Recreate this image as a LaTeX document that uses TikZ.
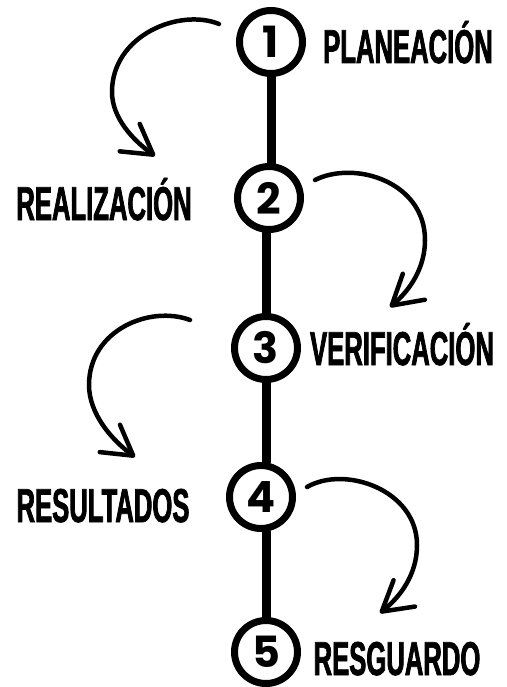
\documentclass[tikz,border=0pt]{standalone}
\usepackage{fontspec}
\usetikzlibrary{arrows.meta}
\newfontfamily\labfont{Liberation Sans}[FakeStretch=0.54, BoldFeatures={FakeBold=1.5}]
\newfontfamily\numfont{Poppins}
\begin{document}
\begin{tikzpicture}[x=1pt,y=-1pt,
  stepcircle/.style={circle, draw=black, line width=7pt, minimum size=63pt, inner sep=0pt,
    font=\numfont\bfseries\fontsize{43}{43}\selectfont},
  steplabel/.style={anchor=base, inner sep=0pt, font=\labfont\bfseries\fontsize{47.5}{50}\selectfont},
  vline/.style={line width=9pt, line cap=round},
  curvearrow/.style={line width=4.5pt, line cap=round,
    -{Straight Barb[length=29pt, width=34pt, line width=4.5pt, round]}}]
\useasboundingbox (0,0) rectangle (506,687);
\fill[white] (0,0) rectangle (506,687);
% steps
\node[stepcircle] (c1) at (271,42) {1};
\node[stepcircle] (c2) at (269,198) {2};
\node[stepcircle] (c3) at (266,348) {3};
\node[stepcircle] (c4) at (261,497) {4};
\node[stepcircle] (c5) at (266,652) {5};
% connectors (vertical)
\draw[vline] (c1.south) -- (c1.south |- c2.north);
\draw[vline] (c3.north |- c2.south) -- (c3.north);
\draw[vline] (c3.south) -- (c3.south |- c4.north);
\draw[vline] (c5.north |- c4.south) -- (c5.north);
% labels
\node[steplabel] (l1) at (408,63) {PLANEACIÓN};
\node[steplabel] (l2) at (104,220) {REALIZACIÓN};
\node[steplabel] (l3) at (402,365) {VERIFICACIÓN};
\node[steplabel] (l4) at (103,522) {RESULTADOS};
\node[steplabel] (l5) at (397,675) {RESGUARDO};
% curved arrows
\coordinate (a1s) at (219,24);
\coordinate (a1e) at (155,156);
\draw[curvearrow] (a1s) .. controls (180,8) and (112,35) .. (112,92)
  .. controls (112,118) and (133,140) .. (a1e);
\coordinate (a2s) at (315,180);
\coordinate (a2e) at (390,307);
\draw[curvearrow] (a2s) .. controls (355,160) and (425,182) .. (425,240)
  .. controls (425,268) and (410,290) .. (a2e);
\coordinate (a3s) at (190,320);
\coordinate (a3e) at (135,457);
\draw[curvearrow] (a3s) .. controls (150,305) and (89,330) .. (89,385)
  .. controls (89,414) and (112,440) .. (a3e);
\coordinate (a4s) at (307,487);
\coordinate (a4e) at (380,613);
\draw[curvearrow] (a4s) .. controls (345,465) and (417,490) .. (417,545)
  .. controls (417,574) and (401,596) .. (a4e);
\end{tikzpicture}
\end{document}
